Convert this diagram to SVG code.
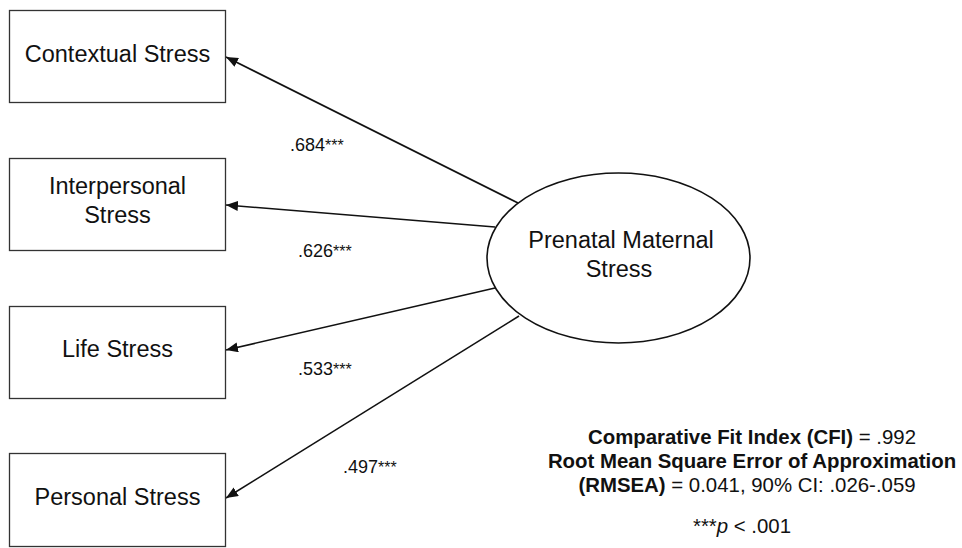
<svg xmlns="http://www.w3.org/2000/svg" width="962" height="548" viewBox="0 0 962 548">
<style>
  .box { fill: #ffffff; stroke: #333333; stroke-width: 1.3; }
  .lbl { font-family: "Liberation Sans", Arial, sans-serif; font-size: 23.5px; fill: #111111; text-anchor: middle; }
  .coef { font-family: "Liberation Sans", Arial, sans-serif; font-size: 18px; fill: #111111; }
  .ast { font-size: 16px; }
  .fit { font-family: "Liberation Sans", Arial, sans-serif; font-size: 20.4px; fill: #111111; text-anchor: middle; }
  .b { font-weight: bold; }
  .conn { stroke: #111111; stroke-width: 1.6; fill: none; marker-end: url(#arrow); }
</style>
<defs>
  <marker id="arrow" viewBox="0 0 12 10" refX="12" refY="5" markerWidth="12" markerHeight="10" markerUnits="userSpaceOnUse" orient="auto">
    <path d="M0,0 L12,5 L0,10 Z" fill="#111111"/>
  </marker>
</defs>
<rect width="962" height="548" fill="#ffffff"/>

<g id="connectors">
  <line class="conn" x1="518" y1="203" x2="226" y2="57"/>
  <line class="conn" x1="495" y1="227" x2="226" y2="205"/>
  <line class="conn" x1="495" y1="288" x2="226" y2="350"/>
  <line class="conn" x1="519" y1="316" x2="226" y2="498"/>
</g>

<g id="contextual">
  <rect class="box" x="9.5" y="10.5" width="216" height="92"/>
  <text class="lbl" x="117.5" y="62">Contextual Stress</text>
</g>
<g id="interpersonal">
  <rect class="box" x="9.5" y="158.5" width="216" height="92"/>
  <text class="lbl" x="117.5" y="194">Interpersonal</text>
  <text class="lbl" x="117.5" y="223">Stress</text>
</g>
<g id="life">
  <rect class="box" x="9.5" y="306.5" width="216" height="92"/>
  <text class="lbl" x="117.5" y="357">Life Stress</text>
</g>
<g id="personal">
  <rect class="box" x="9.5" y="453.5" width="216" height="93"/>
  <text class="lbl" x="117.5" y="505">Personal Stress</text>
</g>

<g id="prenatal">
  <ellipse cx="618.5" cy="258" rx="131.5" ry="85" fill="#ffffff" stroke="#111111" stroke-width="1.6"/>
  <text class="lbl" x="621" y="248">Prenatal Maternal</text>
  <text class="lbl" x="619" y="277">Stress</text>
</g>

<g id="coefficients">
  <text class="coef" x="290" y="151">.684<tspan class="ast">***</tspan></text>
  <text class="coef" x="298" y="257">.626<tspan class="ast">***</tspan></text>
  <text class="coef" x="298" y="375">.533<tspan class="ast">***</tspan></text>
  <text class="coef" x="343" y="473">.497<tspan class="ast">***</tspan></text>
</g>

<g id="fit-indices">
  <text class="fit" x="752" y="444"><tspan class="b">Comparative Fit Index (CFI)</tspan> = .992</text>
  <text class="fit b" x="752" y="468">Root Mean Square Error of Approximation</text>
  <text class="fit" x="747" y="492"><tspan class="b">(RMSEA)</tspan> = 0.041, 90% CI: .026-.059</text>
  <text class="fit" x="742" y="533">***<tspan font-style="italic">p</tspan> &lt; .001</text>
</g>
</svg>
